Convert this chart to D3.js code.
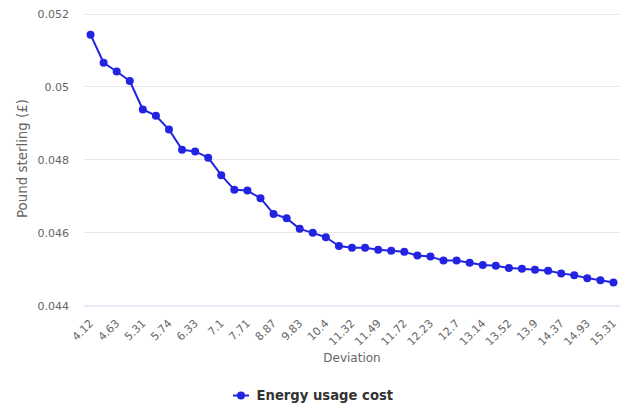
<!DOCTYPE html>
<html>
<head>
<meta charset="utf-8">
<script src="https://cdn.jsdelivr.net/npm/d3@7/dist/d3.min.js"></script>
<style>
  html, body { margin: 0; padding: 0; background: #fff; }
  svg { display: block; font-family: "DejaVu Sans", Verdana, sans-serif; }
</style>
</head>
<body>
<svg id="chart" width="625" height="410"></svg>
<script>
// Shown x tick labels (every second category)
const tickLabels = ["4.12","4.63","5.31","5.74","6.33","7.1","7.71","8.87","9.83","10.4","11.32","11.49","11.72","12.23","12.7","13.14","13.52","13.9","14.37","14.93","15.31"];
// Series values (41 points)
const energyCost = [
  0.05142, 0.05065, 0.05041, 0.05015, 0.04937, 0.04920, 0.04882, 0.04827, 0.04822, 0.04805,
  0.04757, 0.04717, 0.04715, 0.04694, 0.04651, 0.04639, 0.04610, 0.04599, 0.04587, 0.04563,
  0.04558, 0.04558, 0.04553, 0.04550, 0.04547, 0.04537, 0.04534, 0.04523, 0.04523, 0.04517,
  0.04511, 0.04509, 0.04503, 0.04501, 0.04498, 0.04495, 0.04488, 0.04483, 0.04475, 0.04469,
  0.04463
];
const yTicks = [0.044, 0.046, 0.048, 0.05, 0.052];
const seriesName = "Energy usage cost";
const yTitle = "Pound sterling (£)";
const xTitle = "Deviation";

const svg = d3.select("#chart");
const pLeft = 84, pRight = 620, pTop = 13.5, pBottom = 305.5;
const color = "#2323e2";

const x = d3.scaleBand().domain(d3.range(energyCost.length)).range([pLeft, pRight]);
const y = d3.scaleLinear().domain([0.044, 0.052]).range([pBottom, pTop]);
const cx = i => x(i) + x.bandwidth() / 2;

// gridlines
svg.append("g").selectAll("line").data(yTicks.slice(1)).join("line")
  .attr("x1", pLeft).attr("x2", pRight)
  .attr("y1", d => Math.round(y(d)) + 0.5).attr("y2", d => Math.round(y(d)) + 0.5)
  .attr("stroke", "#e6e6e6").attr("stroke-width", 1);

// y labels
const yAxis = d3.axisLeft(y).tickValues(yTicks).tickSize(0).tickPadding(0)
  .tickFormat(d => String(+d.toFixed(3)));
const gy = svg.append("g").attr("transform", `translate(${pLeft - 15},0)`).call(yAxis);
gy.select(".domain").remove();
gy.selectAll("text").attr("fill", "#666").style("font-size", "11px")
  .style("font-family", "DejaVu Sans, sans-serif").attr("dy", "0.33em");

// x axis line
svg.append("line").attr("x1", pLeft).attr("x2", pRight)
  .attr("y1", pBottom + 0.5).attr("y2", pBottom + 0.5)
  .attr("stroke", "#ccd6eb").attr("stroke-width", 1);

// x labels
const xAxis = d3.axisBottom(x)
  .tickValues(d3.range(0, energyCost.length, 2))
  .tickSize(0).tickPadding(0)
  .tickFormat(d => tickLabels[d / 2]);
const gx = svg.append("g").attr("transform", `translate(0,${pBottom})`).call(xAxis);
gx.select(".domain").remove();
gx.selectAll(".tick text")
  .attr("fill", "#666").style("font-size", "11px")
  .style("font-family", "DejaVu Sans, sans-serif")
  .attr("text-anchor", "end")
  .attr("x", 0).attr("y", 0).attr("dy", 0)
  .attr("transform", "translate(3.5,18.5) rotate(-45)");

// axis titles
svg.append("text").attr("x", (pLeft + pRight) / 2).attr("y", 362)
  .attr("text-anchor", "middle").attr("fill", "#666").style("font-size", "12px")
  .text(xTitle);
svg.append("text")
  .attr("transform", `translate(27,${(pTop + pBottom) / 2 - 1}) rotate(-90)`)
  .attr("text-anchor", "middle").attr("fill", "#666").style("font-size", "13.4px")
  .text(yTitle);

// line
const line = d3.line().x((d, i) => cx(i)).y(d => y(d));
svg.append("path").datum(energyCost).attr("d", line)
  .attr("fill", "none").attr("stroke", color).attr("stroke-width", 2)
  .attr("stroke-linejoin", "round").attr("stroke-linecap", "round");
svg.append("g").selectAll("circle").data(energyCost).join("circle")
  .attr("cx", (d, i) => cx(i)).attr("cy", d => y(d)).attr("r", 4)
  .attr("fill", color);

// legend
const lg = svg.append("g");
lg.append("line").attr("x1", 233).attr("x2", 249).attr("y1", 395.5).attr("y2", 395.5)
  .attr("stroke", color).attr("stroke-width", 2);
lg.append("circle").attr("cx", 241).attr("cy", 395.5).attr("r", 4).attr("fill", color);
lg.append("text").attr("x", 256.5).attr("y", 400).attr("fill", "#333")
  .style("font-size", "13.2px").style("font-weight", "bold").text(seriesName);
</script>
</body>
</html>
